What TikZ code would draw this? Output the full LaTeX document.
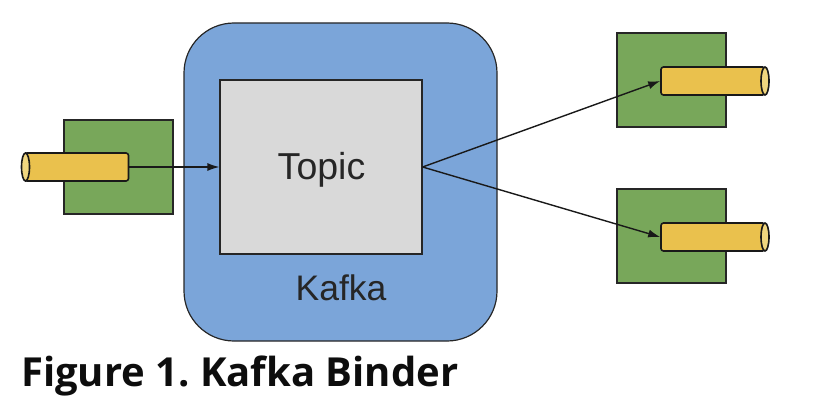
\documentclass[tikz,border=0pt]{standalone}
\usepackage{fontspec}
\setmainfont{Liberation Sans}
\newfontfamily\captionfont{Open Sans}
\usetikzlibrary{shapes.geometric,arrows.meta}

\definecolor{kafkablue}{HTML}{7BA5D9}
\definecolor{appgreen}{HTML}{78A75A}
\definecolor{pipeyellow}{HTML}{EAC14D}
\definecolor{capyellow}{HTML}{F0D67F}
\definecolor{topicgrey}{HTML}{D9D9D9}

\tikzset{
  broker/.style={draw=black!85,line width=1.2pt,fill=kafkablue,rounded corners=50pt,minimum width=313pt,minimum height=318pt,inner sep=0pt},
  topicbox/.style={draw=black!85,line width=1.2pt,fill=topicgrey,minimum width=202pt,minimum height=174pt,inner sep=0pt},
  appbox/.style={draw=black!85,line width=1.5pt,fill=appgreen,minimum width=109pt,minimum height=94pt,inner sep=0pt},
  pipe/.style={draw=black!90,line width=1.6pt,fill=pipeyellow,rounded corners=2.5pt,minimum width=104pt,minimum height=28pt,inner sep=0pt},
  pipecap/.style={draw=black!90,line width=1.6pt,fill=capyellow,ellipse,minimum width=8pt,minimum height=28pt,inner sep=0pt},
  flow/.style={draw=black!90,line width=1.4pt,-{Latex[length=12pt,width=8pt]}}
}

\begin{document}
\begin{tikzpicture}[x=1pt,y=-1pt]
 \useasboundingbox (0,0) rectangle (818,412);

 \node[broker] (kafka) at (340.5,182) {};
 \node[topicbox] (topic) at (321,167) {};
 \node[font=\fontsize{37.5}{37.5}\selectfont,text=black!85] (topiclabel) at (321.5,170) {Topic};
 \node[font=\fontsize{35.5}{35.5}\selectfont,text=black!85] (kafkalabel) at (341,288) {Kafka};

 \node[appbox] (inapp) at (118.5,167) {};
 \node[appbox] (outappa) at (671.5,80) {};
 \node[appbox] (outappb) at (671.5,236) {};

 % pipes first, the caps sit on top of their ends
 \node[pipe] (inpipe) at (76.5,167) {};
 \node[pipecap] (incap) at (25.5,167) {};
 \node[pipe] (outpipea) at (713,81) {};
 \node[pipecap] (outcapa) at (765,81) {};
 \node[pipe] (outpipeb) at (713,237) {};
 \node[pipecap] (outcapb) at (765,237) {};

 \draw[flow] (inpipe.east) -- (topic.west);
 \draw[flow] (topic.east) -- (outpipea.west);
 \draw[flow] (topic.east) -- (outpipeb.west);

 \node[anchor=base west,inner sep=0pt,font=\captionfont\bfseries\frenchspacing\fontsize{40}{40}\selectfont,text=black!95] (caption) at (21,386) {Figure 1. Kafka Binder};
\end{tikzpicture}
\end{document}
